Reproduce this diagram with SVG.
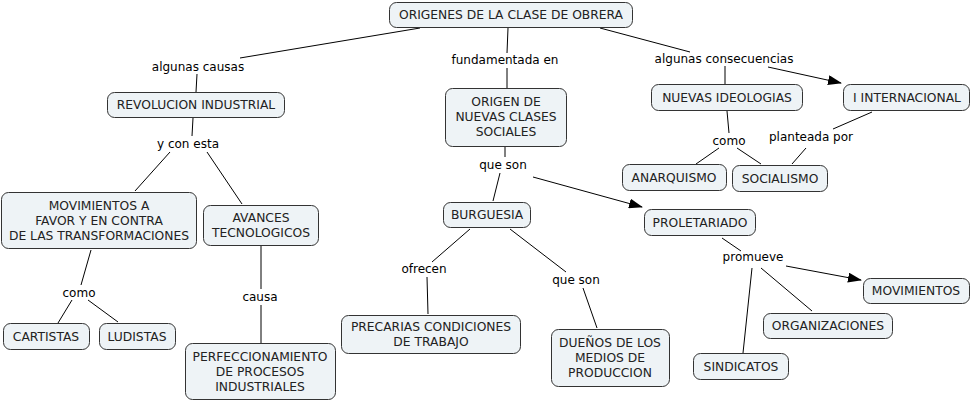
<svg xmlns="http://www.w3.org/2000/svg" width="972" height="401" viewBox="0 0 972 401">
<defs>
<marker id="ah" markerWidth="14" markerHeight="10" refX="13" refY="5" orient="auto" markerUnits="userSpaceOnUse">
<path d="M0,0 L14,5 L0,10 Z" fill="#000"/>
</marker>
<style>
.n rect{fill:#eef3f6;stroke:#333;stroke-width:1}
text{font-family:"DejaVu Sans","Liberation Sans",sans-serif;font-size:12px;fill:#222;text-anchor:middle}
.n text{font-size:12.3px}
.c line{stroke:#000;stroke-width:1}
.c text{fill:#000}
</style>
</defs>
<rect width="972" height="401" fill="#fff"/>
<g class="c" id="connectors">
<line x1="420" y1="28" x2="240" y2="58"/>
<line x1="197" y1="74" x2="196" y2="92"/>
<line x1="508" y1="28" x2="507" y2="53"/>
<line x1="507" y1="68" x2="507" y2="88"/>
<line x1="600" y1="28" x2="690" y2="52"/>
<line x1="725" y1="66" x2="725" y2="84"/>
<line x1="768" y1="67" x2="841" y2="83" marker-end="url(#ah)"/>
<line x1="193" y1="118" x2="192" y2="136"/>
<line x1="170" y1="152" x2="135" y2="191"/>
<line x1="207" y1="152" x2="242" y2="204"/>
<line x1="91" y1="250" x2="81" y2="285"/>
<line x1="72" y1="300" x2="58" y2="323"/>
<line x1="88" y1="300" x2="118" y2="322"/>
<line x1="261" y1="246" x2="261" y2="289"/>
<line x1="261" y1="305" x2="261" y2="343"/>
<line x1="505" y1="146" x2="505" y2="157"/>
<line x1="500" y1="173" x2="493" y2="201"/>
<line x1="533" y1="177" x2="642" y2="207" marker-end="url(#ah)"/>
<line x1="470" y1="229" x2="432" y2="262"/>
<line x1="427" y1="277" x2="428" y2="314"/>
<line x1="510" y1="229" x2="566" y2="272"/>
<line x1="583" y1="288" x2="597" y2="328"/>
<line x1="727" y1="111" x2="729" y2="133"/>
<line x1="719" y1="148" x2="696" y2="164"/>
<line x1="737" y1="148" x2="761" y2="164"/>
<line x1="872" y1="112" x2="833" y2="129"/>
<line x1="806" y1="148" x2="792" y2="164"/>
<line x1="722" y1="238" x2="741" y2="251"/>
<line x1="752" y1="268" x2="743" y2="353"/>
<line x1="761" y1="268" x2="812" y2="311"/>
<line x1="786" y1="266" x2="861" y2="280" marker-end="url(#ah)"/>
<text x="198" y="71">algunas causas</text>
<text x="505" y="64">fundamentada en</text>
<text x="724" y="63">algunas consecuencias</text>
<text x="188" y="148">y con esta</text>
<text x="503" y="169">que son</text>
<text x="729" y="145">como</text>
<text x="811" y="141">planteada por</text>
<text x="79" y="297">como</text>
<text x="260" y="301">causa</text>
<text x="424" y="273">ofrecen</text>
<text x="576" y="284">que son</text>
<text x="753" y="261">promueve</text>
</g>
<g class="n" id="n-origenes"><rect x="389.5" y="2.5" width="243" height="25" rx="7"/><text x="511" y="19">ORIGENES DE LA CLASE DE OBRERA</text></g>
<g class="n" id="n-revolucion"><rect x="107.5" y="92.5" width="177" height="25" rx="7"/><text x="196" y="109">REVOLUCION INDUSTRIAL</text></g>
<g class="n" id="n-origen"><rect x="445.5" y="88.5" width="121" height="58" rx="7"/><text x="506" y="106">ORIGEN DE</text><text x="506" y="121">NUEVAS CLASES</text><text x="506" y="136">SOCIALES</text></g>
<g class="n" id="n-ideologias"><rect x="651.5" y="84.5" width="151" height="26" rx="7"/><text x="727" y="102">NUEVAS IDEOLOGIAS</text></g>
<g class="n" id="n-internacional"><rect x="843.5" y="84.5" width="126" height="26" rx="7"/><text x="907" y="102">I INTERNACIONAL</text></g>
<g class="n" id="n-movimientos-a"><rect x="1.5" y="192.5" width="195" height="56" rx="7"/><text x="99" y="210">MOVIMIENTOS A</text><text x="99" y="225">FAVOR Y EN CONTRA</text><text x="99" y="240">DE LAS TRANSFORMACIONES</text></g>
<g class="n" id="n-avances"><rect x="203.5" y="205.5" width="115" height="40" rx="7"/><text x="261" y="222">AVANCES</text><text x="261" y="237">TECNOLOGICOS</text></g>
<g class="n" id="n-burguesia"><rect x="443.5" y="202.5" width="87" height="25" rx="7"/><text x="487" y="219">BURGUESIA</text></g>
<g class="n" id="n-proletariado"><rect x="644.5" y="209.5" width="111" height="26" rx="7"/><text x="700" y="227">PROLETARIADO</text></g>
<g class="n" id="n-anarquismo"><rect x="622.5" y="164.5" width="104" height="26" rx="7"/><text x="674" y="182">ANARQUISMO</text></g>
<g class="n" id="n-socialismo"><rect x="732.5" y="165.5" width="95" height="26" rx="7"/><text x="780" y="183">SOCIALISMO</text></g>
<g class="n" id="n-cartistas"><rect x="3.5" y="323.5" width="86" height="26" rx="7"/><text x="46" y="341">CARTISTAS</text></g>
<g class="n" id="n-ludistas"><rect x="99.5" y="323.5" width="76" height="26" rx="7"/><text x="137" y="341">LUDISTAS</text></g>
<g class="n" id="n-perfeccionamiento"><rect x="185.5" y="343.5" width="150" height="56" rx="7"/><text x="260" y="361">PERFECCIONAMIENTO</text><text x="260" y="376">DE PROCESOS</text><text x="260" y="391">INDUSTRIALES</text></g>
<g class="n" id="n-precarias"><rect x="341.5" y="315.5" width="179" height="38" rx="7"/><text x="431" y="331">PRECARIAS CONDICIONES</text><text x="431" y="346">DE TRABAJO</text></g>
<g class="n" id="n-duenos"><rect x="551.5" y="329.5" width="118" height="57" rx="7"/><text x="610" y="347">DUEÑOS DE LOS</text><text x="610" y="362">MEDIOS DE</text><text x="610" y="377">PRODUCCION</text></g>
<g class="n" id="n-movimientos"><rect x="863.5" y="278.5" width="106" height="25" rx="7"/><text x="916" y="295">MOVIMIENTOS</text></g>
<g class="n" id="n-organizaciones"><rect x="763.5" y="313.5" width="129" height="25" rx="7"/><text x="828" y="330">ORGANIZACIONES</text></g>
<g class="n" id="n-sindicatos"><rect x="693.5" y="353.5" width="95" height="26" rx="7"/><text x="741" y="371">SINDICATOS</text></g>
</svg>
